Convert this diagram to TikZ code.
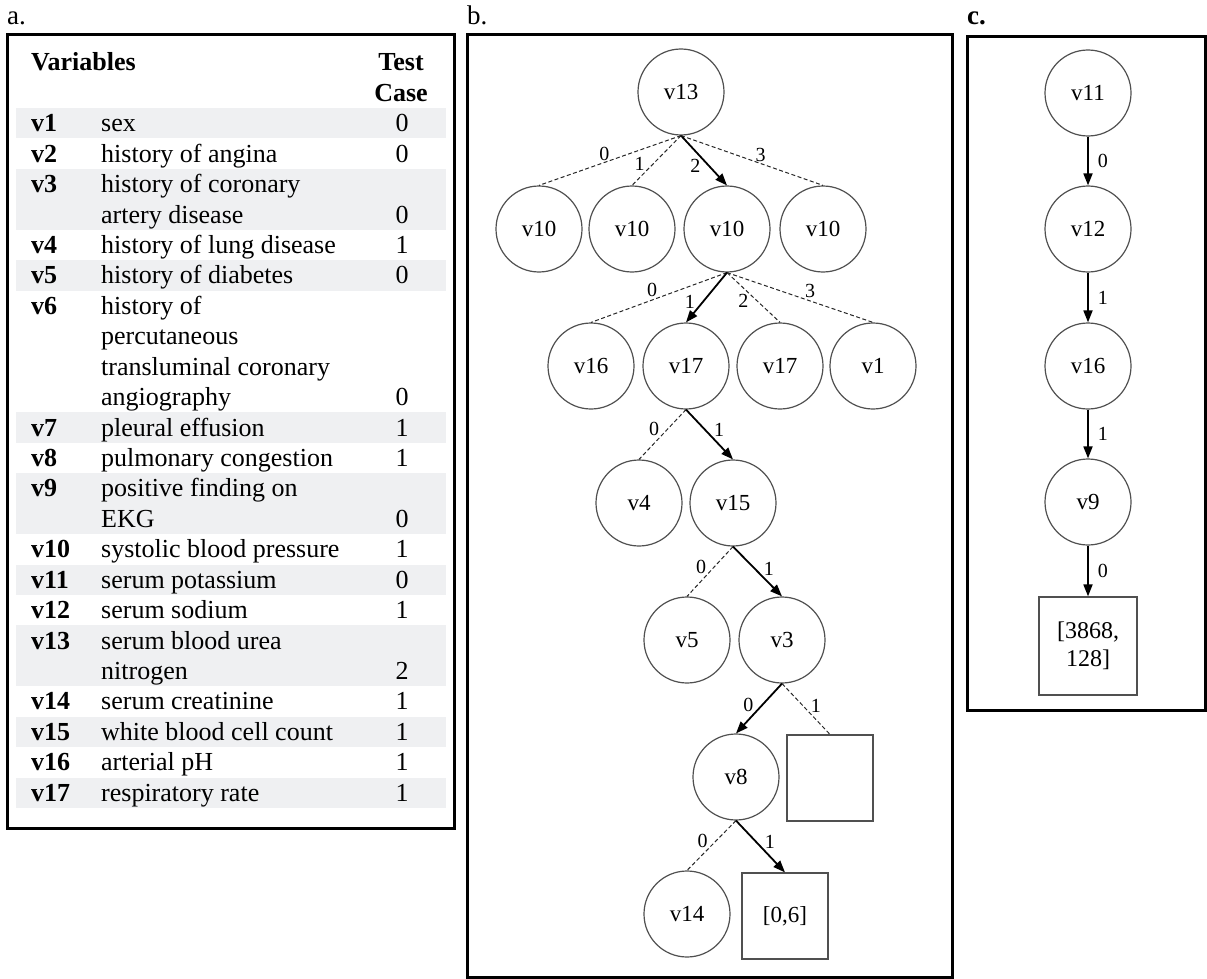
\documentclass[tikz,border=0pt]{standalone}
\usepackage{fontspec}
\setmainfont{Liberation Serif}
\usetikzlibrary{arrows.meta}
\definecolor{rowgray}{HTML}{EFF0F2}
\definecolor{nodeline}{HTML}{505050}
\begin{document}
\begin{tikzpicture}[x=1pt,y=-1pt,
  vnode/.style={circle,draw=nodeline,line width=1.2pt,minimum size=86pt,inner sep=0pt,font=\fontsize{23}{27}\selectfont},
  leaf/.style={rectangle,draw=nodeline,line width=1.2pt,minimum size=86pt,inner sep=0pt,font=\fontsize{23}{27}\selectfont},
  dashedge/.style={draw=black!85,line width=1pt,dash pattern=on 4pt off 2.5pt},
  pathedge/.style={draw=black,line width=1.8pt,-{Triangle[length=12pt,width=9pt]}},
  lbl/.style={font=\fontsize{20}{23}\selectfont,inner sep=1.5pt},
  clbl/.style={font=\fontsize{20}{23}\selectfont,inner sep=1pt},
  frame/.style={draw=black,line width=3pt},
  panellbl/.style={font=\fontsize{27}{30}\selectfont,anchor=base west,inner sep=0pt},
  tabtxt/.style={anchor=base west,inner sep=0pt,font=\fontsize{26}{30}\selectfont},
  varname/.style={tabtxt,font=\fontsize{26}{30}\selectfont\bfseries},
  tabval/.style={anchor=base,inner sep=0pt,font=\fontsize{26}{30}\selectfont}
]
\useasboundingbox (0,0) rectangle (1207,979);

% ---------- panel labels ----------
\node[panellbl] (la) at (7,25) {a.};
\node[panellbl] (lb) at (467,25) {b.};
\node[panellbl] (lc) at (967,25) {\bfseries c.};

% ---------- panel a : table ----------
\foreach \ya/\yb in {108/138.4, 168.9/229.7, 260.2/290.6, 412.3/442.7, 473.2/534.0, 564.5/594.9, 625.3/686.2, 716.6/747.0, 777.5/807.9}
  \fill[rowgray] (16,\ya) rectangle (446,\yb);
\draw[frame] (7,35) rectangle (454,828);

\node[varname] (hvar) at (31,71) {Variables};
\node[tabval,font=\fontsize{26}{30}\selectfont\bfseries] (htest) at (401,71) {Test};
\node[tabval,font=\fontsize{26}{30}\selectfont\bfseries] (hcase) at (401,102) {Case};

\foreach \y/\t [count=\i] in {131.7/v1, 162.1/v2, 192.6/v3, 253.4/v4, 283.9/v5, 314.3/v6, 436.0/v7, 466.4/v8, 496.9/v9, 557.7/v10, 588.2/v11, 618.6/v12, 649.0/v13, 709.9/v14, 740.3/v15, 770.7/v16, 801.2/v17}
  \node[varname] (var\i) at (31,\y) {\t};

\foreach \y/\t [count=\i] in {131.7/sex, 162.1/history of angina, 192.6/history of coronary, 223.0/artery disease, 253.4/history of lung disease, 283.9/history of diabetes, 314.3/history of, 344.7/percutaneous, 375.1/transluminal coronary, 405.6/angiography, 436.0/pleural effusion, 466.4/pulmonary congestion, 496.9/positive finding on, 527.3/EKG, 557.7/systolic blood pressure, 588.2/serum potassium, 618.6/serum sodium, 649.0/serum blood urea, 679.4/nitrogen, 709.9/serum creatinine, 740.3/white blood cell count, 770.7/arterial pH, 801.2/respiratory rate}
  \node[tabtxt] (desc\i) at (101,\y) {\t};

\foreach \y/\t [count=\i] in {131.7/0, 162.1/0, 223.0/0, 253.4/1, 283.9/0, 405.6/0, 436.0/1, 466.4/1, 527.3/0, 557.7/1, 588.2/0, 618.6/1, 679.4/2, 709.9/1, 740.3/1, 770.7/1, 801.2/1}
  \node[tabval] (val\i) at (402,\y) {\t};

% ---------- panel b : tree ----------
\draw[frame] (467,35) rectangle (952,977);

\node[vnode] (n13) at (681,92) {v13};
\node[vnode] (a10) at (539,229) {v10};
\node[vnode] (b10) at (632,229) {v10};
\node[vnode] (c10) at (727,229) {v10};
\node[vnode] (d10) at (823,229) {v10};
\node[vnode] (n16) at (591,366) {v16};
\node[vnode] (n17a) at (686,366) {v17};
\node[vnode] (n17b) at (780,366) {v17};
\node[vnode] (n1) at (873,366) {v1};
\node[vnode] (n4) at (639,503) {v4};
\node[vnode] (n15) at (733,503) {v15};
\node[vnode] (n5) at (687,640) {v5};
\node[vnode] (n3) at (782,640) {v3};
\node[vnode] (n8) at (736,777) {v8};
\node[leaf] (empty) at (830,778) {};
\node[vnode] (n14) at (687,914) {v14};
\node[leaf] (r06) at (785,916) {[0,6]};

\draw[dashedge] (n13.south) -- (a10.north) node[lbl,pos=.54,above] {0};
\draw[dashedge] (n13.south) -- (b10.north) node[lbl,pos=.72,above left=-1pt] {1};
\draw[pathedge] (n13.south) -- (c10.north) node[lbl,pos=.45,below left=-1pt] {2};
\draw[dashedge] (n13.south) -- (d10.north) node[lbl,pos=.56,above] {3};

\draw[dashedge] (c10.south) -- (n16.north) node[lbl,pos=.55,above=1pt] {0};
\draw[pathedge] (c10.south) -- (n17a.north) node[lbl,pos=.75,above left=-1pt] {1};
\draw[dashedge] (c10.south) -- (n17b.north) node[lbl,pos=.42,below left=-1pt] {2};
\draw[dashedge] (c10.south) -- (n1.north) node[lbl,pos=.57,above=1pt] {3};

\draw[dashedge] (n17a.south) -- (n4.north) node[lbl,pos=.55,above left=-1pt] {0};
\draw[pathedge] (n17a.south) -- (n15.north) node[lbl,pos=.57,above right=-1pt] {1};

\draw[dashedge] (n15.south) -- (n5.north) node[lbl,pos=.56,above left=-1pt] {0};
\draw[pathedge] (n15.south) -- (n3.north) node[lbl,pos=.6,above right=-1pt] {1};

\draw[pathedge] (n3.south) -- (n8.north) node[lbl,pos=.59,above left=-1pt] {0};
\draw[dashedge] (n3.south) -- (empty.north) node[lbl,pos=.58,above right=-1pt] {1};

\draw[dashedge] (n8.south) -- (n14.north) node[lbl,pos=.56,above left=-1pt] {0};
\draw[pathedge] (n8.south) -- (r06.north) node[lbl,pos=.56,above right=-1pt] {1};

% ---------- panel c : path ----------
\draw[frame] (967,37) rectangle (1205.5,710);

\node[vnode] (c11) at (1088,93) {v11};
\node[vnode] (c12) at (1088,229) {v12};
\node[vnode] (c16) at (1088,366) {v16};
\node[vnode] (c9) at (1088,502) {v9};
\node[leaf,minimum size=98pt,align=center,font=\fontsize{24}{28}\selectfont] (cbox) at (1088,646) {[3868,\\128]};

\draw[pathedge] (c11.south) -- (c12.north) node[clbl,midway,right=8pt] {0};
\draw[pathedge] (c12.south) -- (c16.north) node[clbl,midway,right=8pt] {1};
\draw[pathedge] (c16.south) -- (c9.north) node[clbl,midway,right=8pt] {1};
\draw[pathedge] (c9.south) -- (cbox.north) node[clbl,midway,right=8pt] {0};
\end{tikzpicture}
\end{document}
